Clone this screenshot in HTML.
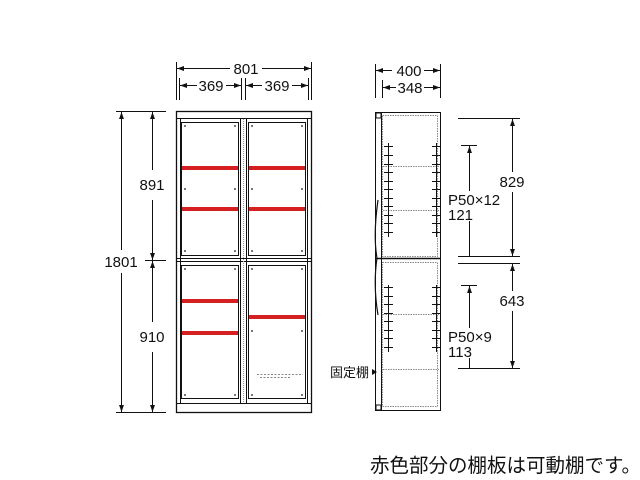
<!DOCTYPE html>
<html><head><meta charset="utf-8"><style>
html,body{margin:0;padding:0;background:#fff;}
svg{display:block;}
text{font-family:"Liberation Sans","Noto Sans CJK JP",sans-serif;fill:#111;}
</style></head><body>
<svg width="640" height="480" viewBox="0 0 640 480" xmlns="http://www.w3.org/2000/svg">
<defs>
<marker id="a" viewBox="0 0 10 10" refX="10" refY="5" markerWidth="7" markerHeight="7" orient="auto-start-reverse"><path d="M0,1.5 L10,5 L0,8.5 z" fill="#111"/></marker>
</defs>
<g stroke="#111" stroke-width="1" fill="none">
<!-- front horizontal dims -->
<line x1="176.5" y1="62" x2="176.5" y2="100"/>
<line x1="311.5" y1="62" x2="311.5" y2="100"/>
<line x1="241.5" y1="78" x2="241.5" y2="100"/>
<line x1="245.5" y1="78" x2="245.5" y2="100"/>
<line x1="179.5" y1="78" x2="179.5" y2="100"/>
<line x1="308.5" y1="78" x2="308.5" y2="100"/>
<line x1="177" y1="68.5" x2="230" y2="68.5" marker-start="url(#a)"/>
<line x1="262" y1="68.5" x2="311" y2="68.5" marker-end="url(#a)"/>
<line x1="180" y1="85.5" x2="197" y2="85.5" marker-start="url(#a)"/>
<line x1="226" y1="85.5" x2="241" y2="85.5" marker-end="url(#a)"/>
<line x1="246" y1="85.5" x2="262" y2="85.5" marker-start="url(#a)"/>
<line x1="292" y1="85.5" x2="308" y2="85.5" marker-end="url(#a)"/>
<!-- front vertical dims -->
<line x1="116" y1="111.5" x2="166" y2="111.5"/>
<line x1="145" y1="260.5" x2="166" y2="260.5"/>
<line x1="116" y1="412.5" x2="166" y2="412.5"/>
<line x1="121.5" y1="112" x2="121.5" y2="250" marker-start="url(#a)"/>
<line x1="121.5" y1="273" x2="121.5" y2="412" marker-end="url(#a)"/>
<line x1="152.5" y1="112" x2="152.5" y2="170" marker-start="url(#a)"/>
<line x1="152.5" y1="200" x2="152.5" y2="260" marker-end="url(#a)"/>
<line x1="152.5" y1="261" x2="152.5" y2="322" marker-start="url(#a)"/>
<line x1="152.5" y1="352" x2="152.5" y2="412" marker-end="url(#a)"/>
<!-- front cabinet -->
<rect x="176.5" y="111.5" width="135" height="301" stroke-width="1.3"/>
<line x1="177" y1="118.5" x2="311" y2="118.5"/>
<line x1="177" y1="403.5" x2="311" y2="403.5"/>
<line x1="177" y1="258.5" x2="311" y2="258.5"/>
<line x1="177" y1="261.5" x2="311" y2="261.5"/>
<line x1="180.5" y1="119" x2="180.5" y2="403"/>
<line x1="307.5" y1="119" x2="307.5" y2="403"/>
<rect x="181.5" y="122.5" width="57" height="133"/>
<rect x="248.5" y="122.5" width="57" height="133"/>
<rect x="181.5" y="265.5" width="57" height="133"/>
<rect x="248.5" y="265.5" width="57" height="133"/>
<line x1="240.5" y1="119" x2="240.5" y2="403"/>
<line x1="246.5" y1="119" x2="246.5" y2="403"/>
<line x1="243.5" y1="119" x2="243.5" y2="403" stroke="#999" stroke-dasharray="1 1"/>
<path d="M257 374.5 H303 M260 377.5 H291" stroke="#888" stroke-dasharray="2 1.5"/>
</g>
<g fill="#d42020">
<rect x="182" y="166" width="56" height="4"/>
<rect x="249" y="166" width="56" height="4"/>
<rect x="182" y="207" width="56" height="4"/>
<rect x="249" y="207" width="56" height="4"/>
<rect x="182" y="299" width="56" height="4"/>
<rect x="182" y="331" width="56" height="4"/>
<rect x="249" y="315" width="56" height="4"/>
</g>
<g fill="#777">
<rect x="184" y="125" width="2" height="2"/><rect x="234" y="125" width="2" height="2"/>
<rect x="251" y="125" width="2" height="2"/><rect x="301" y="125" width="2" height="2"/>
<rect x="184" y="188" width="2" height="2"/><rect x="234" y="188" width="2" height="2"/>
<rect x="251" y="188" width="2" height="2"/><rect x="301" y="188" width="2" height="2"/>
<rect x="184" y="250" width="2" height="2"/><rect x="234" y="250" width="2" height="2"/>
<rect x="251" y="250" width="2" height="2"/><rect x="301" y="250" width="2" height="2"/>
<rect x="184" y="268" width="2" height="2"/><rect x="234" y="268" width="2" height="2"/>
<rect x="251" y="268" width="2" height="2"/><rect x="301" y="268" width="2" height="2"/>
<rect x="251" y="330" width="2" height="2"/><rect x="301" y="330" width="2" height="2"/>
<rect x="184" y="394" width="2" height="2"/><rect x="234" y="394" width="2" height="2"/>
<rect x="251" y="394" width="2" height="2"/><rect x="301" y="394" width="2" height="2"/>
</g>
<g font-size="15" text-anchor="middle">
<text x="246" y="74">801</text>
<text x="211" y="91">369</text>
<text x="277" y="91">369</text>
<rect x="103" y="252" width="36" height="18" fill="#fff"/>
<text x="121" y="267">1801</text>
<rect x="137" y="175" width="30" height="20" fill="#fff"/>
<text x="152" y="190">891</text>
<rect x="137" y="327" width="30" height="20" fill="#fff"/>
<text x="152" y="342">910</text>
</g>
<!-- side view -->
<g stroke="#111" stroke-width="1" fill="none">
<line x1="375.5" y1="64" x2="375.5" y2="98"/>
<line x1="440.5" y1="64" x2="440.5" y2="98"/>
<line x1="382.5" y1="80" x2="382.5" y2="98"/>
<line x1="376" y1="70.5" x2="392" y2="70.5" marker-start="url(#a)"/>
<line x1="424" y1="70.5" x2="440" y2="70.5" marker-end="url(#a)"/>
<line x1="383" y1="87.5" x2="396" y2="87.5" marker-start="url(#a)"/>
<line x1="424" y1="87.5" x2="440" y2="87.5" marker-end="url(#a)"/>
<rect x="375.5" y="112.5" width="65" height="298"/>
<line x1="381.5" y1="113" x2="381.5" y2="410"/>
<rect x="376" y="113" width="5" height="5"/>
<rect x="376" y="405" width="5" height="5"/>
<line x1="376" y1="258.5" x2="440" y2="258.5" stroke-width="1.5"/>
<rect x="382.5" y="115.5" width="55" height="141" stroke="#888" stroke-dasharray="1.5 1"/>
<rect x="382.5" y="262.5" width="55" height="144" stroke="#888" stroke-dasharray="1.5 1"/>
<path d="M383 166.5 H439 M383 210.5 H439 M383 314.5 H439 M383 369.5 H439" stroke="#888" stroke-dasharray="1.5 1"/>
<path d="M378 200 Q373 235 377 258 Q373 285 378 315" stroke-width="1.2"/>
<path d="M388.5 143 V237 M436.5 143 V237 M388.5 285 V352 M436.5 285 V352"/>
<path d="M384 146.5h9 M432 146.5h9 M384 155.5h9 M432 155.5h9 M384 164.5h9 M432 164.5h9 M384 172.5h9 M432 172.5h9 M384 181.5h9 M432 181.5h9 M384 189.5h9 M432 189.5h9 M384 198.5h9 M432 198.5h9 M384 206.5h9 M432 206.5h9 M384 215.5h9 M432 215.5h9 M384 223.5h9 M432 223.5h9 M384 232.5h9 M432 232.5h9
M384 287.5h9 M432 287.5h9 M384 296.5h9 M432 296.5h9 M384 304.5h9 M432 304.5h9 M384 313.5h9 M432 313.5h9 M384 321.5h9 M432 321.5h9 M384 330.5h9 M432 330.5h9 M384 338.5h9 M432 338.5h9 M384 347.5h9 M432 347.5h9"/>
<!-- right dims -->
<line x1="458" y1="118.5" x2="520" y2="118.5"/>
<line x1="458" y1="256.5" x2="520" y2="256.5"/>
<line x1="458" y1="263.5" x2="520" y2="263.5"/>
<line x1="458" y1="368.5" x2="520" y2="368.5"/>
<line x1="461" y1="145.5" x2="477" y2="145.5"/>
<line x1="461" y1="285.5" x2="477" y2="285.5"/>
<line x1="512.5" y1="119" x2="512.5" y2="256" marker-start="url(#a)" marker-end="url(#a)"/>
<line x1="512.5" y1="264" x2="512.5" y2="368" marker-start="url(#a)" marker-end="url(#a)"/>
<line x1="469.5" y1="146" x2="469.5" y2="256" marker-start="url(#a)"/>
<line x1="469.5" y1="286" x2="469.5" y2="368" marker-start="url(#a)"/>
</g>
<path d="M372 369 L377 372 L372 375 z" fill="#111"/>
<g font-size="15">
<text x="409" y="76" text-anchor="middle" style="paint-order:stroke" stroke="#fff" stroke-width="4">400</text>
<text x="410" y="93" text-anchor="middle" style="paint-order:stroke" stroke="#fff" stroke-width="4">348</text>
<rect x="496" y="172" width="32" height="20" fill="#fff"/>
<text x="512" y="187" text-anchor="middle">829</text>
<rect x="496" y="291" width="32" height="20" fill="#fff"/>
<text x="512" y="306" text-anchor="middle">643</text>
<rect x="447" y="191" width="58" height="30" fill="#fff"/>
<text x="448" y="205">P50×12</text>
<text x="448" y="220">121</text>
<rect x="447" y="328" width="50" height="30" fill="#fff"/>
<text x="448" y="342">P50×9</text>
<text x="448" y="357">113</text>
</g>
<text x="330" y="377" font-size="13">固定棚</text>
<text x="370" y="472" font-size="19.5">赤色部分の棚板は可動棚です。</text>
</svg>
</body></html>
